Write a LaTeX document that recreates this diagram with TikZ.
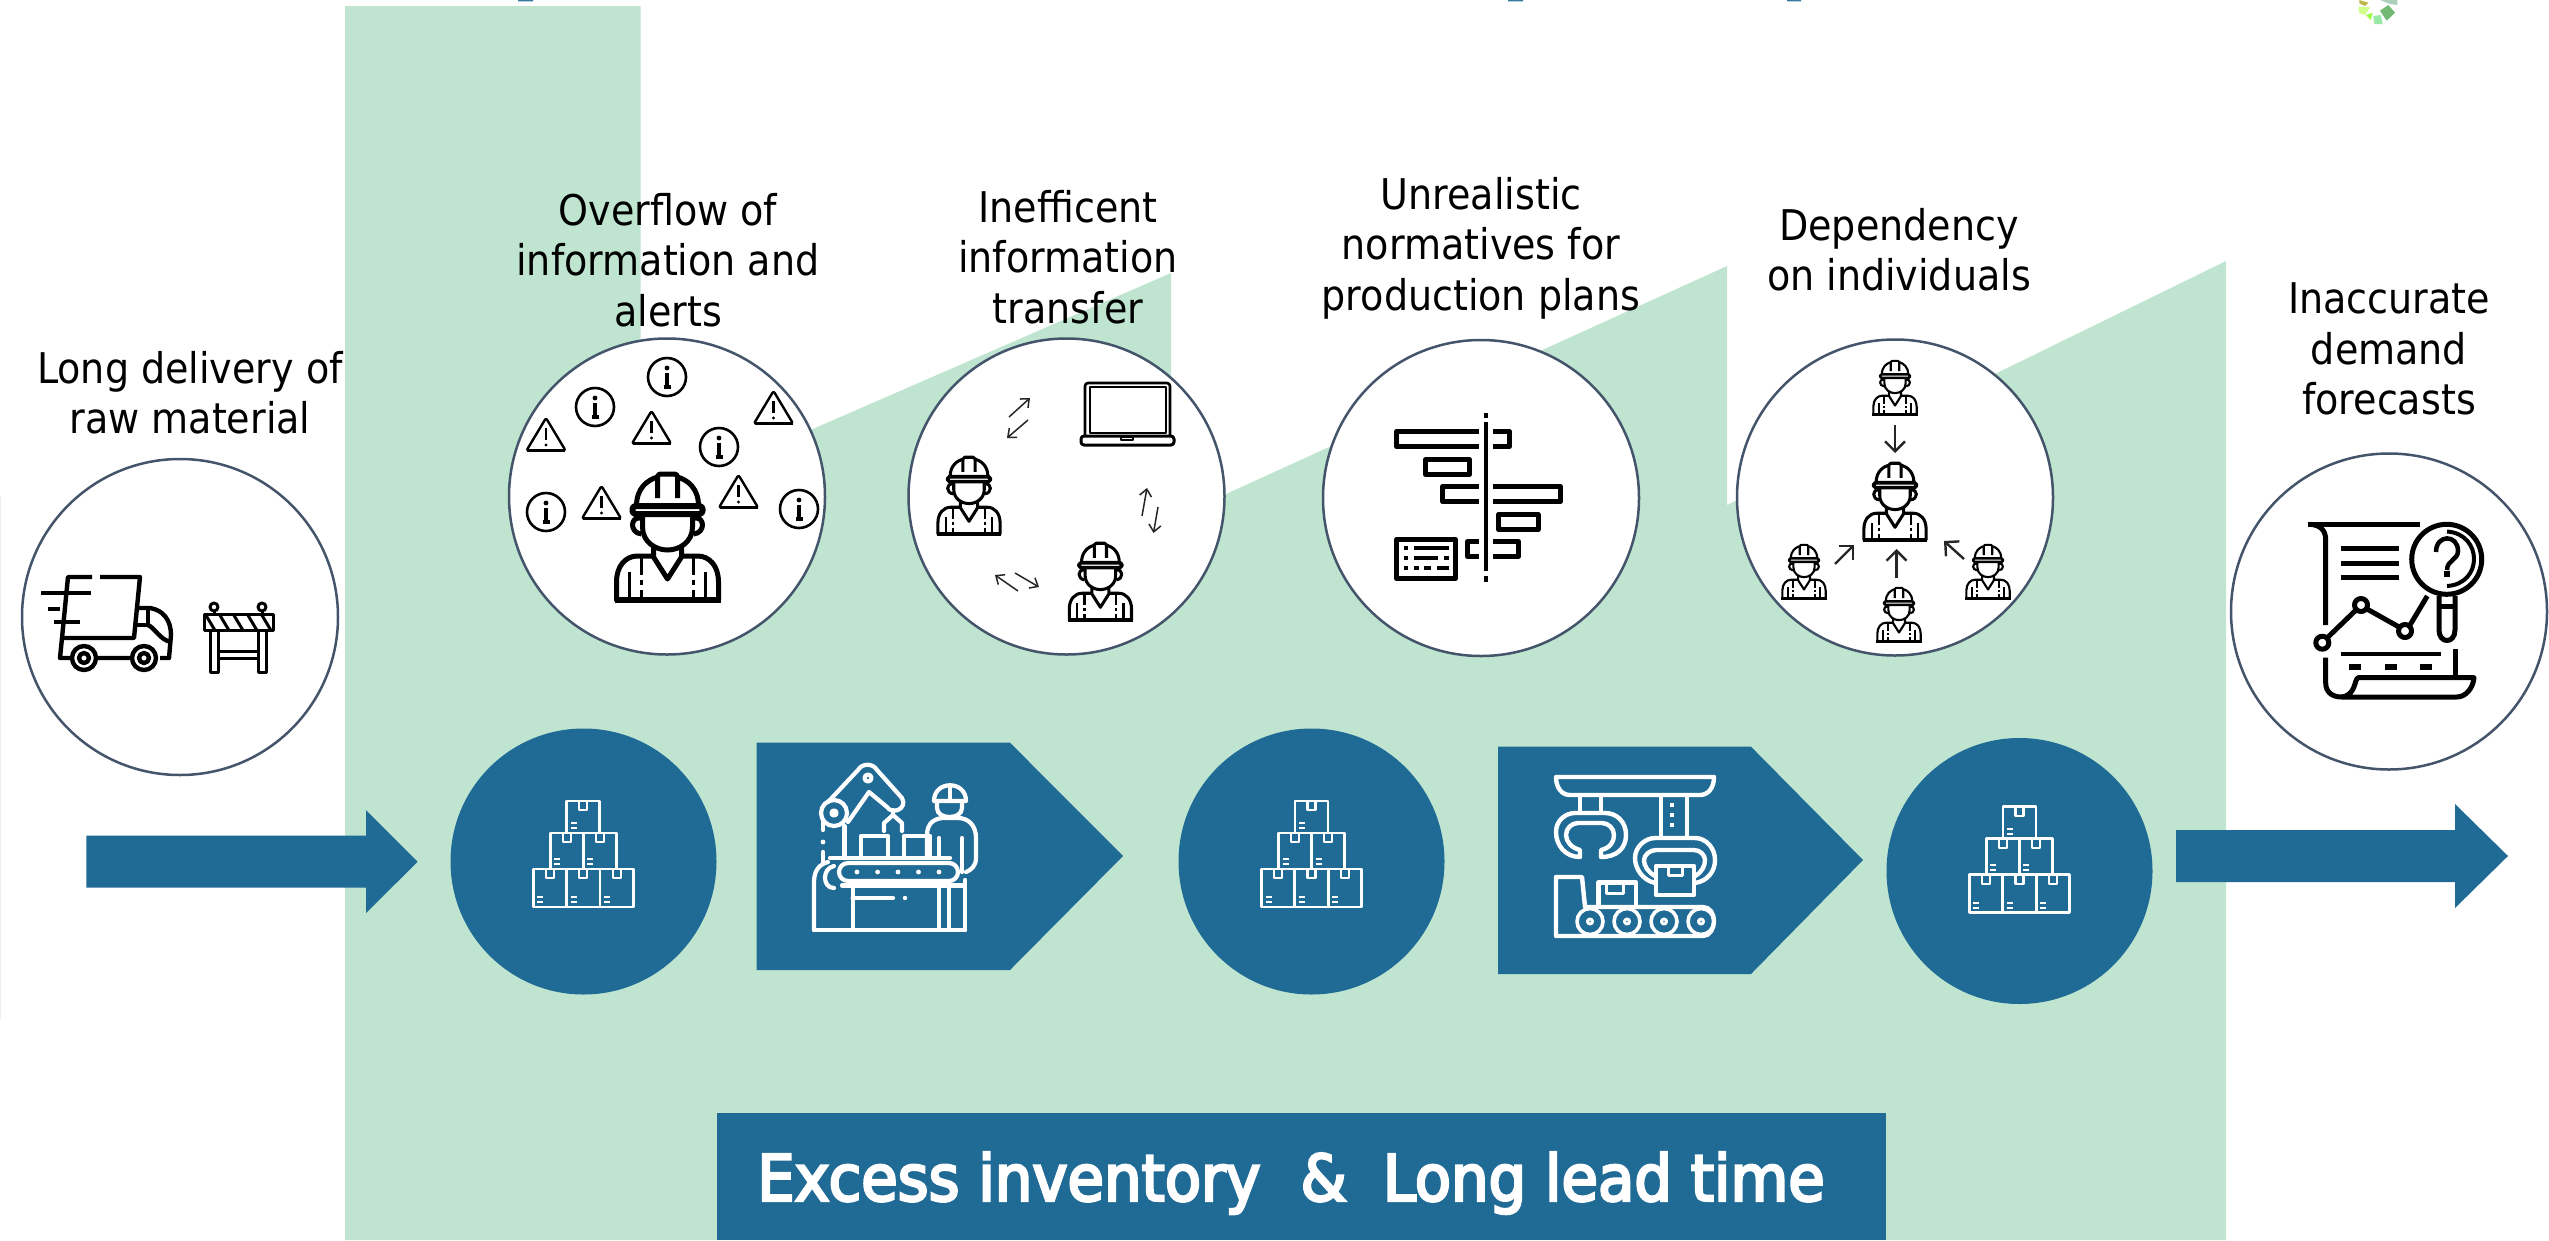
\documentclass[tikz,border=0pt]{standalone}
\usepackage{fontspec}
\setmainfont{DejaVu Sans Condensed}
\newfontfamily\titlefont[FakeBold=4,FakeStretch=1.03]{DejaVu Sans Condensed}
\usetikzlibrary{arrows.meta}
\definecolor{blu}{HTML}{206A96}
\definecolor{grn}{HTML}{BFE5D0}
\definecolor{slate}{HTML}{44546A}
\tikzset{
  issue/.style={circle,draw=slate,line width=2.5pt,fill=white,minimum size=316pt,inner sep=0pt,outer sep=0pt},
  stock/.style={circle,fill=blu,minimum size=266pt,inner sep=0pt,outer sep=0pt},
  lbl/.style={align=center,anchor=base,inner sep=0pt,outer sep=0pt,font=\fontsize{42.3}{50.5}\selectfont,text=black},
  ic/.style={line cap=butt,line join=round},
  thinarrow/.style={-{Straight Barb[length=7pt,width=12pt]},line width=1.5pt,draw=black!85},
  midarrow/.style={-{Straight Barb[length=10pt,width=20pt]},line width=2.4pt,draw=black!85},
}
\newcommand\IconArrow[4][thinarrow]{\coordinate (#2s) at (#3); \coordinate (#2e) at (#4); \draw[#1] (#2s) -- (#2e);}
\newcommand\Worker[3]{%
\begin{scope}[shift={(#1,#2)},scale=#3,line width=#3*5pt,ic,draw=black]
 \draw (-31,34) .. controls (-31,16) and (-20,8) .. (-10,5);
 \draw (10,5) .. controls (20,8) and (31,16) .. (31,34);
 \draw[rounded corners=#3*3pt] (-10,26) -- (-10,2) -- (10,2) -- (10,26);
 \draw[rounded corners=#3*3pt,line width=#3*6pt] (-35,34) rectangle (35,42);
 \draw (-25,43) -- (-25,55) .. controls (-25,70) and (-12,78) .. (0,78) .. controls (12,78) and (25,70) .. (25,55) -- (25,43);
 \draw (-26,46) .. controls (-38,44) and (-38,61) .. (-26,62);
 \draw (26,46) .. controls (38,44) and (38,61) .. (26,62);
 \draw (-14,73) -- (-14,85) -- (0,107) -- (14,85) -- (14,73);
 \draw (-14,84) -- (-30,84) .. controls (-42,84) and (-51,94) .. (-51,110) -- (-51,128) -- (51,128) -- (51,110) .. controls (51,94) and (42,84) .. (30,84) -- (14,84);
 \draw[line width=#3*6pt] (-53,128) -- (53,128);
 \foreach \sx in {-26,26}{
   \draw[line width=#3*3.6pt] (\sx,86) -- (\sx,103) (\sx,108) -- (\sx,113) (\sx,118) -- (\sx,128);}
 \foreach \sx in {-38,38}{
   \draw[line width=#3*3.6pt] (\sx,100) -- (\sx,128);}
\end{scope}}
\newcommand\Warn[2]{%
\begin{scope}[shift={(#1,#2)},line width=2.4pt,draw=black,ic]
 \draw[rounded corners=2pt,fill=white] (0,1) -- (19.5,33.5) -- (-19.5,33.5) -- cycle;
 \draw[line width=3pt] (-19,33.5) -- (19,33.5);
 \draw[line width=2.6pt] (0,11) -- (0,23);
 \fill (0,28) circle (1.7pt);
\end{scope}}
\newcommand\Info[2]{%
\begin{scope}[shift={(#1,#2)},line width=2.6pt,draw=black,ic]
 \draw (0,0) circle (19pt);
 \fill (0,-9) circle (2.4pt);
 \draw[line width=3.2pt] (0,-4) -- (0,10);
 \draw[line width=3.2pt] (-3.5,10) -- (3.5,10);
\end{scope}}
\newcommand\BoxStack[2]{%
\begin{scope}[shift={(#1,#2)},draw=white,line width=2.8pt,line join=round]
 \foreach \bx/\by/\bw/\bh in {-16.5/0/33/32,-33/32/33/36,0/32/33/36,-50/68/33.3/38,-16.7/68/33.4/38,16.7/68/33.3/38}{
   \draw (\bx,\by) rectangle ++(\bw,\bh);
   \draw[line width=2.2pt] (\bx+\bw/2-4,\by) -- ++(0,9) -- ++(8,0) -- ++(0,-9);
   \draw[line width=2.2pt] (\bx+4,\by+\bh-10) -- ++(6,0) (\bx+4,\by+\bh-5) -- ++(6,0);
 }
\end{scope}}
\begin{document}
\begin{tikzpicture}[x=1pt,y=-1pt]
\useasboundingbox (0,0) rectangle (2549,1240);
% faint edge line and clipped remains of a heading
\fill[black!7] (0,497) rectangle (1,1019);
\fill[blu!90] (518,0) rectangle (533,1.4) (1508,0) rectangle (1523,1.4) (1787,0) rectangle (1801,1.4);
% logo remnant
\fill[olive!60] (2359.3,0) -- (2368.3,2.7) -- (2365,6) -- (2359.3,3.3) -- cycle;
\fill[green!40!yellow!45] (2358.3,6.7) -- (2370,7.3) -- (2365,15) -- (2359.3,13.3) -- cycle;
\fill[green!55!yellow!75] (2366,15) -- (2372.7,12.7) -- (2370.7,20) -- cycle;
\fill[grn!80!green] (2373.3,16) -- (2380.7,15) -- (2382.7,24) -- (2374.3,24) -- cycle;
\fill[green!50!black!55] (2380,10.7) -- (2388.3,5) -- (2395,12.7) -- (2386.7,20.7) -- cycle;
\fill[grn!90!black] (2380,0) -- (2397.3,0) -- (2397.3,5) -- (2390,4) -- cycle;
% factory silhouette
\fill[grn] (345,6) -- (640.5,6) -- (640.5,504) -- (1171,273) -- (1171,519) -- (1727,266) -- (1727,505) -- (2226,261) -- (2226,1240) -- (345,1240) -- cycle;
% main arrows
\fill[blu] (86.3,835.7) -- (366,835.7) -- (366,810) -- (417.7,861.7) -- (366,913) -- (366,887.7) -- (86.3,887.7) -- cycle;
\fill[blu] (2176,830) -- (2455,830) -- (2455,804) -- (2508,856) -- (2455,908) -- (2455,882) -- (2176,882) -- cycle;
% pentagons
\fill[blu] (756.7,742.7) -- (1010,742.7) -- (1123,856) -- (1010,970) -- (756.7,970) -- cycle;
\fill[blu] (1498,746.7) -- (1751,746.7) -- (1863,860) -- (1751,974) -- (1498,974) -- cycle;
% stock circles
\node[stock] (s1) at (583.5,861.5) {};
\node[stock] (s2) at (1311.5,861.5) {};
\node[stock] (s3) at (2019.5,871) {};
\BoxStack{583.3}{801}
\BoxStack{1311.5}{801}
\BoxStack{2019.4}{806.7}
% issue circles
\node[issue] (c0) at (180,617) {};
\node[issue] (c1) at (667,496.5) {};
\node[issue] (c2) at (1066.5,496.5) {};
\node[issue] (c3) at (1481,498) {};
\node[issue] (c4) at (1895,497.5) {};
\node[issue] (c5) at (2389,611.5) {};
% labels
\node[lbl] (t0) at (190,433.5) {Long delivery of\\raw material};
\node[lbl] (t1) at (668,326) {Overflow of\\information and\\alerts};
\node[lbl] (t2) at (1068,323) {Inefficent\\information\\transfer};
\node[lbl] (t3) at (1481,310) {Unrealistic\\normatives for\\production plans};
\node[lbl] (t4) at (1899,290.5) {Dependency\\on individuals};
\node[lbl] (t5) at (2389,414.5) {Inaccurate\\demand\\forecasts};
% banner
\node[fill=blu,minimum width=1169pt,minimum height=127pt,inner sep=0pt,outer sep=0pt,anchor=north west] (banner) at (717,1113) {};
\node[anchor=base west,inner sep=0pt,text=white,font=\fontsize{64}{64}\titlefont] (bt) at (757,1200.7) {Excess inventory\hspace*{40pt}\&\hspace*{36pt}Long lead time};
% truck
\begin{scope}[line width=4.4pt,ic,draw=black]
 \draw (92,577) -- (68,577) -- (62,638) -- (134,638) -- (140,577) -- (100,577);
 \draw (41,593) -- (91,593) (48,609) -- (60,609) (54,622) -- (80,622);
 \draw (136,608) -- (150,608) .. controls (163,610) and (171,620) .. (171,635) -- (169,658) -- (160,658);
 \draw (136,625) -- (148,625) -- (148,608);
 \draw (148,625) .. controls (155,628) and (160,640) .. (171,642);
 \draw (62,638) -- (60,658) -- (70,658) (98,658) -- (130,658);
 \draw (84,658) circle (12pt) (84,658) circle (5pt);
 \draw (144,658) circle (12pt) (144,658) circle (5pt);
\end{scope}
% barrier
\begin{scope}[line width=3pt,ic,draw=black]
 \draw (214,607) circle (4pt) (262,607) circle (4pt);
 \draw (214,611) -- (214,614) (262,611) -- (262,614);
 \draw (210.5,630) -- (210.5,672) -- (218,672) -- (218,630);
 \draw (258.5,630) -- (258.5,672) -- (266,672) -- (266,630);
 \draw (218,651) -- (258.5,651) (218,658) -- (258.5,658);
 \begin{scope}
  \clip (204,614) rectangle (273,630);
  \foreach \k in {204,218,232,246,260}{\draw (\k,612) -- (\k+12,632);}
 \end{scope}
 \draw (204,614) rectangle (273,630);
\end{scope}
% overflow icons
\Worker{667.5}{472}{1}
\Warn{546}{417}\Warn{651.5}{410}\Warn{773.5}{390}\Warn{601.5}{485}\Warn{738.5}{474}
\Info{667}{377}\Info{595}{407}\Info{719}{447}\Info{546}{512}\Info{799}{509}
% transfer icons
\Worker{969}{456}{0.61}
\Worker{1100.4}{542}{0.61}
\begin{scope}[ic,draw=black]
 \draw[line width=2.6pt,rounded corners=3pt] (1085,436) -- (1085,383) -- (1170,383) -- (1170,436);
 \draw[line width=2pt] (1090,387) rectangle (1165.5,433);
 \draw[line width=3pt,rounded corners=3pt] (1081,436) rectangle (1174,445);
 \draw[line width=1.6pt] (1121,437) rectangle (1133,440);
\end{scope}
\IconArrow{a}{1009,417}{1030,398}
\IconArrow{b}{1028,420}{1007,438}
\IconArrow{d}{1142,516}{1147,488}
\IconArrow{e}{1158,507}{1153.5,533}
\IconArrow{f}{1018,591}{995,575}
\IconArrow{g}{1015,573}{1039,587}
% gantt
\begin{scope}[line width=5pt,ic,draw=black]
 \draw (1396.5,431.5) rectangle (1509.5,446.5);
 \draw (1425.5,459.5) rectangle (1469.5,474.5);
 \draw (1442.5,486.5) rectangle (1560.5,501.5);
 \draw (1498.5,514.5) rectangle (1538,529.5);
 \draw (1467.5,541.5) rectangle (1518.5,556.5);
 \fill[white] (1479,425) rectangle (1493,565);
 \draw[line width=4pt] (1486,413) -- (1486,418) (1486,422) -- (1486,571) (1486,576) -- (1486,582);
 \draw (1396.5,539.5) rectangle (1455.5,578.5);
 \draw[line width=3.4pt] (1404,548) -- (1408,548) (1414,548) -- (1449,548);
 \draw[line width=3.4pt] (1404,558) -- (1408,558) (1414,558) -- (1438,558) (1444,558) -- (1449,558);
 \draw[line width=3.4pt] (1404,568) -- (1408,568) (1414,568) -- (1419,568) (1424,568) -- (1431,568) (1437,568) -- (1449,568);
\end{scope}
% dependency icons
\Worker{1895}{462}{0.61}
\Worker{1895}{360}{0.425}
\Worker{1804}{544}{0.425}
\Worker{1988}{544}{0.425}
\Worker{1899}{587}{0.425}
\IconArrow[midarrow]{h}{1895,425}{1895,453}
\IconArrow[midarrow]{i}{1896.5,578}{1896.5,549}
\IconArrow[midarrow]{j}{1835,564}{1854,545}
\IconArrow[midarrow]{k}{1964,559}{1944,541}
% forecast report
\begin{scope}[line width=5pt,ic,draw=black]
 \draw (2420,524.3) -- (2308,524.3);
 \draw (2310,524.3) .. controls (2320,525) and (2325.7,530) .. (2325.7,540) -- (2325.7,625);
 \draw (2340.7,548.3) -- (2399.3,548.3) (2340.7,563) -- (2399.3,563) (2340.7,577.7) -- (2399.3,577.7);
 \draw (2446.7,559.3) circle (35pt);
 \draw[line width=4pt] (2447,531.5) .. controls (2483,534) and (2483,584) .. (2447,586);
 \draw[line width=4.5pt] (2436,552) .. controls (2436,534) and (2458,534) .. (2458,551) .. controls (2458,560) and (2447,560) .. (2447,570);
 \fill (2444.3,571) rectangle (2449.7,577);
 \draw (2439,596) -- (2439,630) .. controls (2439,644) and (2455,644) .. (2455,630) -- (2455,596);
 \draw (2439,606.7) -- (2455,606.7);
 \draw (2327,638) -- (2356,610) (2367,609) -- (2399,627) (2410,625) -- (2427.3,596);
 \draw (2322.3,642.7) circle (6.5pt) (2361,605) circle (6.5pt) (2405,631) circle (6.5pt);
 \draw[line width=4pt] (2340.7,654.3) -- (2440.7,654.3);
 \draw[line width=6pt] (2349,666.7) -- (2361,666.7) (2385,666.7) -- (2397,666.7) (2420,666.7) -- (2432,666.7);
 \draw (2455.7,649) -- (2455.7,677);
 \draw (2325.7,657.7) -- (2325.7,683) .. controls (2325.7,692) and (2332,697) .. (2341.7,697) -- (2456.7,697) .. controls (2466,697) and (2473,688) .. (2474,677.7) -- (2358,677.7) .. controls (2354,680) and (2356,695) .. (2341.7,697);
\end{scope}
% robot factory icon
\begin{scope}[draw=white,line width=4.2pt,line cap=round,line join=round]
 \draw (814,930) -- (965,930);
 \draw (814,930) -- (814,882) .. controls (814,870) and (820,864) .. (828,862);
 \draw (965,930) -- (965,880);
 \draw[rounded corners=9pt] (839,863) rectangle (958,881);
 \foreach \dx in {857,877.6,898,918.5,939}{\fill[white] (\dx,872) circle (2.4pt);}
 \draw (842,885.5) -- (964,885.5);
 \draw (852.6,885.5) -- (852.6,930) (939,885.5) -- (939,930) (949,885.5) -- (949,930);
 \draw (852.6,898) -- (893,898);
 \fill[white] (905,898) circle (2.2pt);
 \draw (830,858) -- (950,858);
 \draw (834,866) .. controls (822,868) and (822,888) .. (834,888);
 \draw (861,858) -- (861,836) -- (888,836) -- (888,858);
 \draw (904,858) -- (904,836) -- (930,836) -- (930,858);
 \draw (834,813) circle (13pt) (834,813) circle (2.5pt);
 \draw (844.5,826) -- (844.5,858);
 \draw (828,802) -- (858,770) .. controls (862,763) and (873,763) .. (877,770) -- (902,798) .. controls (908,809) and (892,815) .. (887,807) -- (869,792) -- (848,822);
 \draw (868,778) circle (3.5pt);
 \draw (893,810) -- (893,816);
 \draw (884,831) -- (884,823) -- (893,815) -- (902,823) -- (902,831);
 \fill[white] (823,842) circle (2.4pt);
 \draw (823,852) -- (823,862) (823,820) -- (823,830);
 \draw (934,801) .. controls (934,780) and (966,780) .. (966,801) -- (934,801);
 \draw (950,786) -- (950,800);
 \draw (937,802) -- (937,808) .. controls (937,820) and (962,820) .. (962,808) -- (962,802);
 \draw (927,858) -- (927,835) .. controls (927,822) and (936,818) .. (944,818) -- (958,818) .. controls (968,818) and (976,825) .. (976,838) -- (976,858) .. controls (976,866) and (971,870) .. (966,872);
 \draw (939,838) -- (939,858) (962,838) -- (962,872);
\end{scope}
% gripper conveyor icon
\begin{scope}[draw=white,line width=4.4pt,line join=round,line cap=butt]
 \draw (1556,777) -- (1714,777) .. controls (1714,788) and (1708,795) .. (1700,795) -- (1570,795) .. controls (1562,795) and (1556,788) .. (1556,777) -- cycle;
 \draw (1580,795) -- (1580,813) (1601,795) -- (1601,813);
 \draw (1661,795) -- (1661,838) (1687,795) -- (1687,838);
 \draw[line width=3.5pt] (1672,803) -- (1672,807) (1672,813) -- (1672,817) (1672,823) -- (1672,827);
 \draw (1580,857) .. controls (1565,857) and (1556,845) .. (1556,832) .. controls (1556,820) and (1566,813) .. (1575,813) -- (1605,813) .. controls (1617,813) and (1626,822) .. (1626,835) .. controls (1626,848) and (1617,857) .. (1601,857) -- (1601,850) .. controls (1610,848) and (1614,842) .. (1614,835) .. controls (1614,828) and (1608,823) .. (1602,823) -- (1578,823) .. controls (1572,823) and (1566,828) .. (1566,835) .. controls (1566,842) and (1572,848) .. (1580,850) -- cycle;
 \draw (1655,883) .. controls (1642,880) and (1635,868) .. (1635,858) .. controls (1635,847) and (1645,838) .. (1655,838) -- (1695,838) .. controls (1706,838) and (1715,848) .. (1715,860) .. controls (1715,871) and (1708,881) .. (1695,883);
 \draw (1655,876) .. controls (1648,872) and (1644,866) .. (1644,860) .. controls (1644,855) and (1650,850) .. (1656,850) -- (1694,850) .. controls (1700,850) and (1705,855) .. (1705,860) .. controls (1705,866) and (1702,872) .. (1695,876);
 \draw (1656,866) rectangle (1694,895);
 \draw[line width=3pt] (1668,866) -- (1668,875) -- (1682,875) -- (1682,866);
 \draw (1585,907) -- (1582,877) -- (1556,877) -- (1556,936) -- (1703,936) .. controls (1710,936) and (1714,928) .. (1714,921) .. controls (1714,914) and (1710,907) .. (1703,907) -- cycle;
 \draw (1598.5,907) -- (1598.5,882.5) -- (1636,882.5) -- (1636,907);
 \draw[line width=3pt] (1606,883) -- (1606,893) -- (1623,893) -- (1623,883);
 \foreach \wx in {1590,1627,1664,1701}{
   \draw[line width=3.6pt] (\wx,921.5) circle (13pt);
   \draw[line width=3pt] (\wx,921.5) circle (2.5pt);}
\end{scope}
\end{tikzpicture}
\end{document}
